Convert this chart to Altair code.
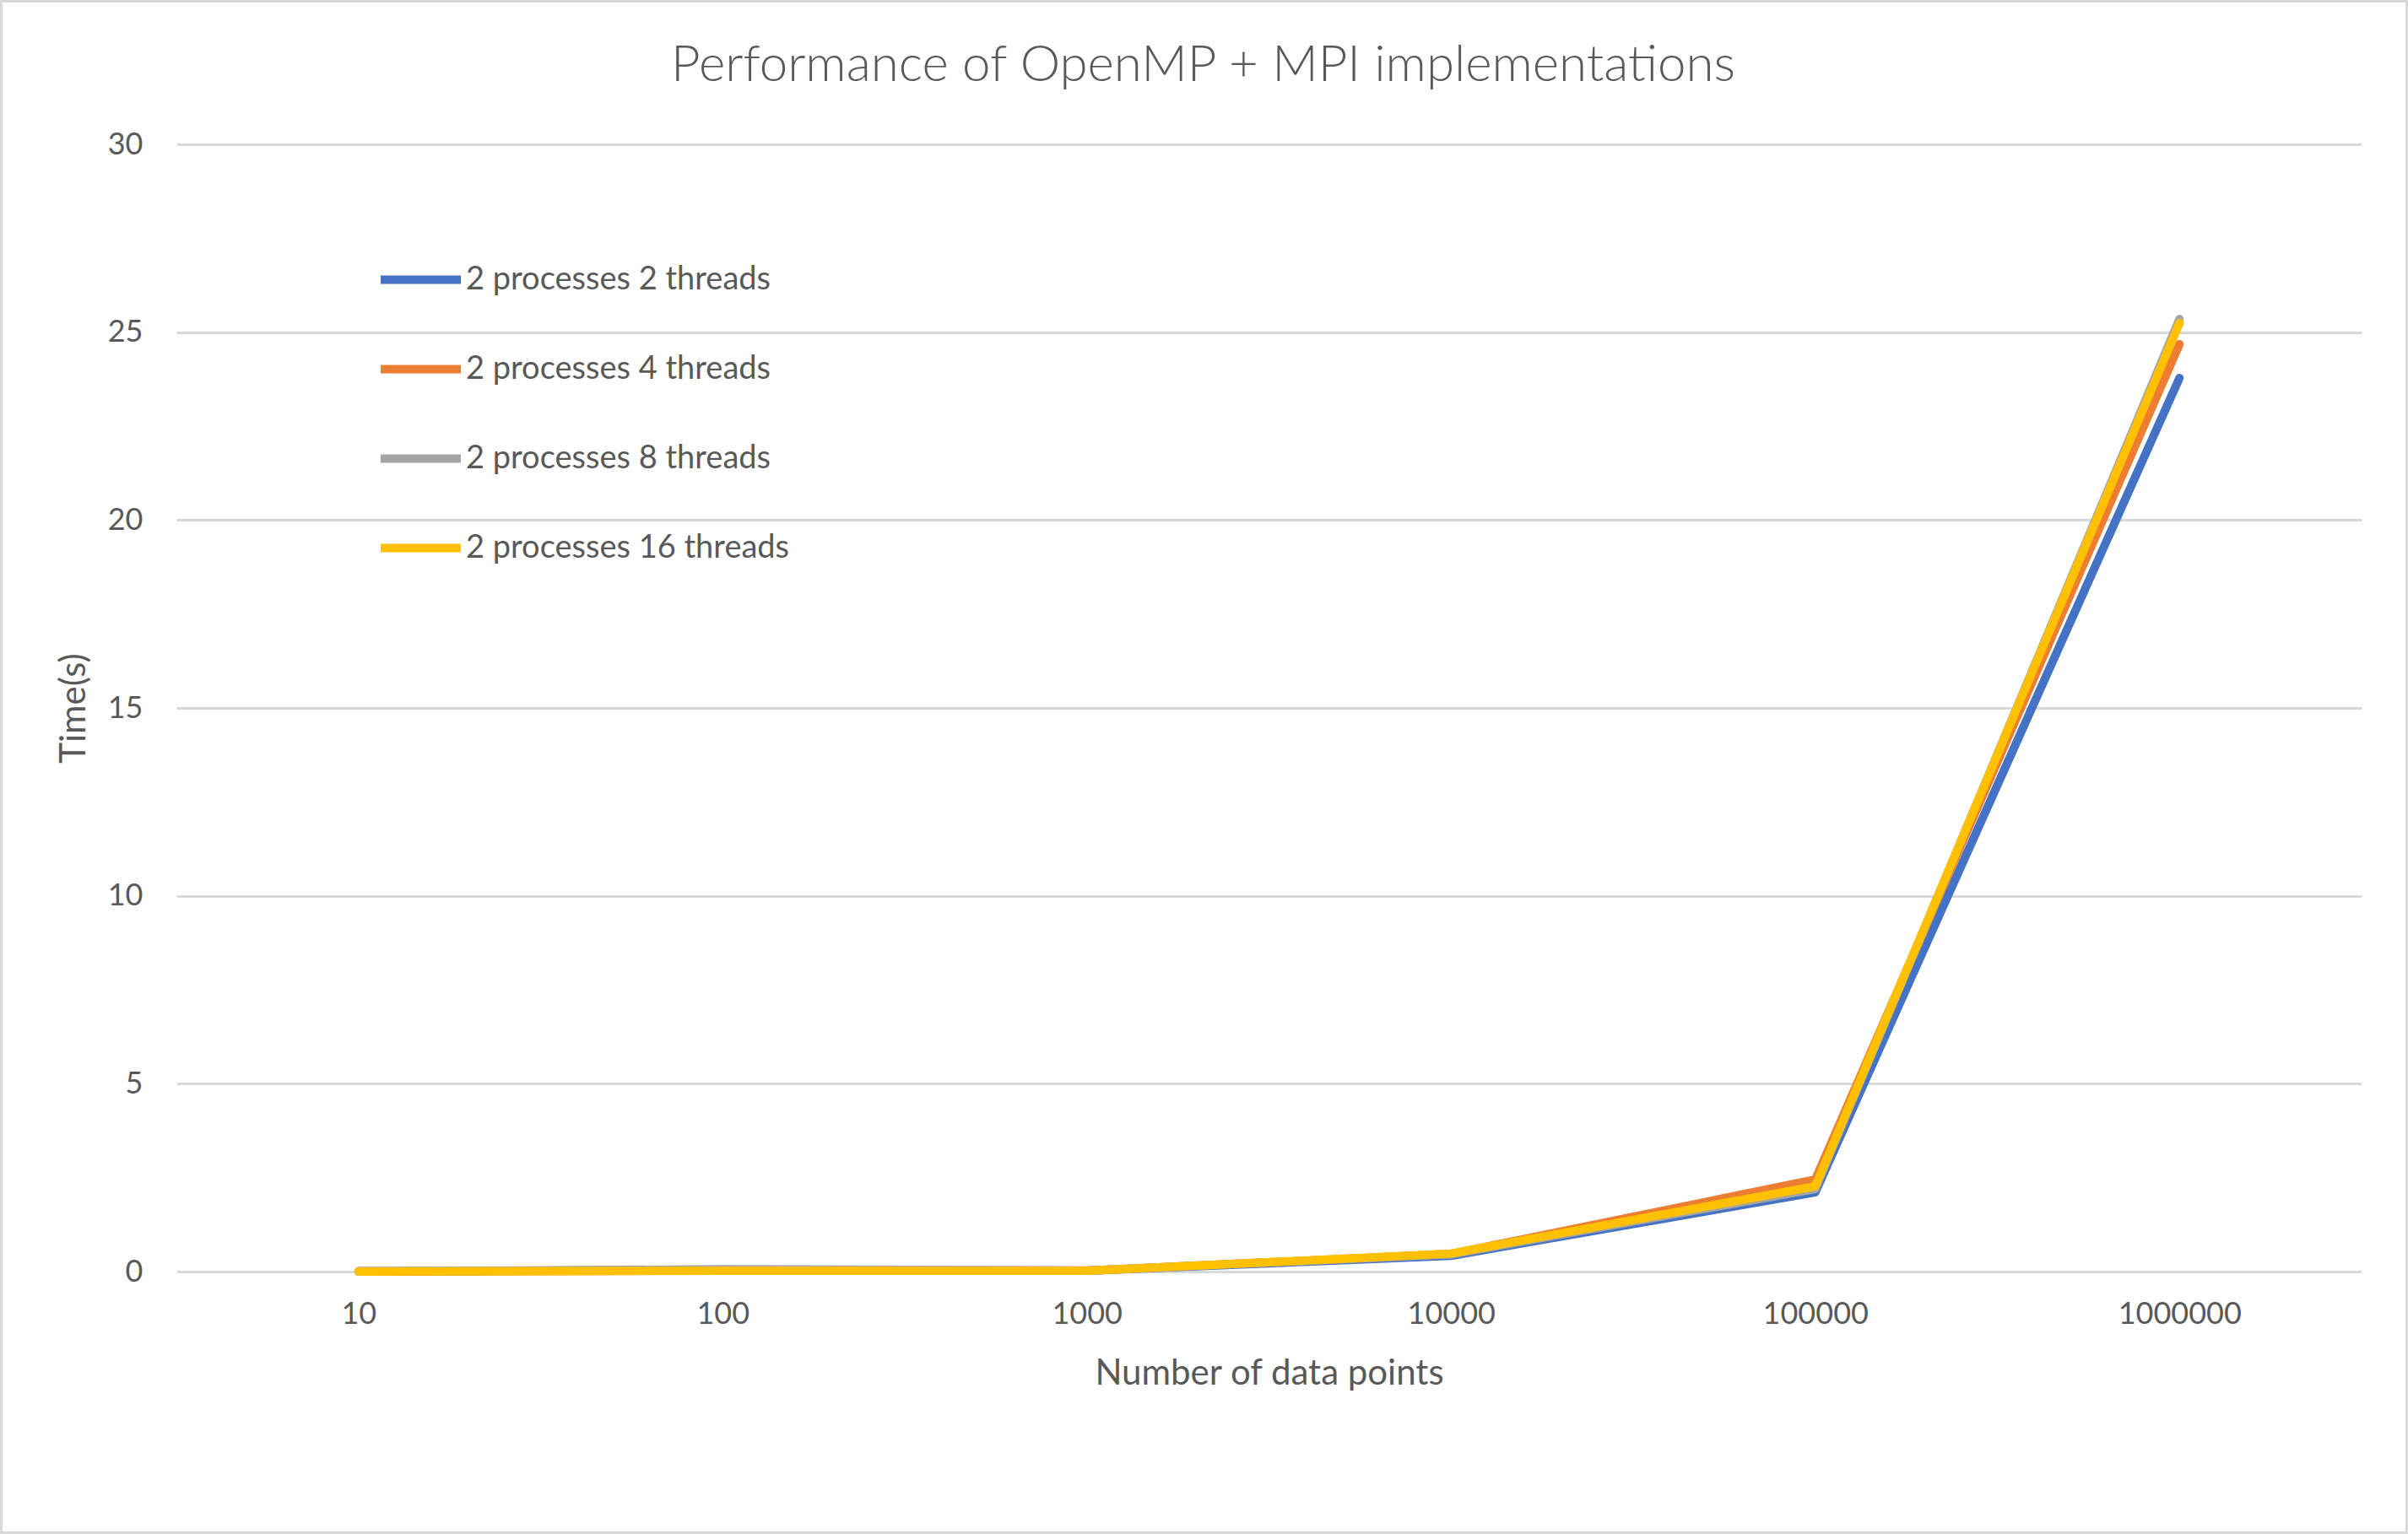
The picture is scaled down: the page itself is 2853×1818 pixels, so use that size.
import altair as alt
import pandas as pd

# ---- data ----
x_labels = ["10", "100", "1000", "10000", "100000", "1000000"]
series_names = [
    "2 processes 2 threads",
    "2 processes 4 threads",
    "2 processes 8 threads",
    "2 processes 16 threads",
]
t_2p2t = [0.003, 0.04, 0.02, 0.42, 2.11, 23.78]
t_2p4t = [0.003, 0.03, 0.02, 0.47, 2.45, 24.68]
t_2p8t = [0.003, 0.06, 0.03, 0.46, 2.20, 25.35]
t_2p16t = [0.002, 0.02, 0.02, 0.48, 2.27, 25.24]
colors = ["#4472C4", "#ED7D31", "#A5A5A5", "#FFC000"]
y_ticks = [0, 5, 10, 15, 20, 25, 30]

rows = []
for name, vals in zip(series_names, [t_2p2t, t_2p4t, t_2p8t, t_2p16t]):
    for xl, v in zip(x_labels, vals):
        rows.append({"points": xl, "time": v, "series": name})
df = pd.DataFrame(rows)

W, H = 2589, 1336
PAD = {"left": 209, "top": 171, "right": 55, "bottom": 311}
FONT = "Lato"
TXT = "#595959"

base = alt.Chart(df).mark_line(strokeWidth=10, strokeCap="round", strokeJoin="round").encode(
    x=alt.X("points:O", sort=x_labels, title="Number of data points",
            axis=alt.Axis(labelAngle=0, ticks=False, domain=False, grid=False,
                          labelPadding=50, labelBaseline="middle",
                          titleY=120, titleBaseline="middle")),
    y=alt.Y("time:Q", scale=alt.Scale(domain=[0, 30], nice=False), title="Time(s)",
            axis=alt.Axis(values=y_ticks, ticks=False, domain=False, labelPadding=40,
                          titleX=-122, titleY=668, titleBaseline="middle")),
    color=alt.Color("series:N", scale=alt.Scale(domain=series_names, range=colors),
                    sort=series_names,
                    legend=alt.Legend(title=None, orient="none", legendX=237, legendY=108,
                                      symbolType="stroke", symbolSize=9025,
                                      symbolStrokeWidth=10, labelOffset=1,
                                      rowPadding=33, labelFontSize=38, labelLimit=2000,
                                      labelFont=FONT, labelColor=TXT)),
)

lines = [base.transform_filter(alt.datum.series == s) for s in series_names]

border = alt.Chart(pd.DataFrame({"a": [0]})).mark_rect(
    filled=False, stroke="#d9d9d9", strokeWidth=3
).encode(
    x=alt.value(-PAD["left"] + 1.5),
    x2=alt.value(W + PAD["right"] - 1.5),
    y=alt.value(-PAD["top"] + 1.5),
    y2=alt.value(H + PAD["bottom"] - 1.5),
)

chart = alt.layer(*lines, border).properties(
    width=W, height=H,
    autosize=alt.AutoSizeParams(type="none"),
    padding=PAD,
    background="white",
    title=alt.TitleParams("Performance of OpenMP + MPI implementations",
                          frame="group", anchor="middle", dx=-78, baseline="alphabetic",
                          offset=-156, fontSize=60, font=FONT, fontWeight=300, color=TXT),
).configure_view(strokeWidth=0).configure_axis(
    labelFont=FONT, labelFontSize=36, labelColor=TXT,
    titleFont=FONT, titleFontSize=42, titleColor=TXT, titleFontWeight="normal",
    gridColor="#d9d9d9", gridWidth=3,
)

chart.save("out.html", embed_options={"renderer": "svg", "actions": False})
